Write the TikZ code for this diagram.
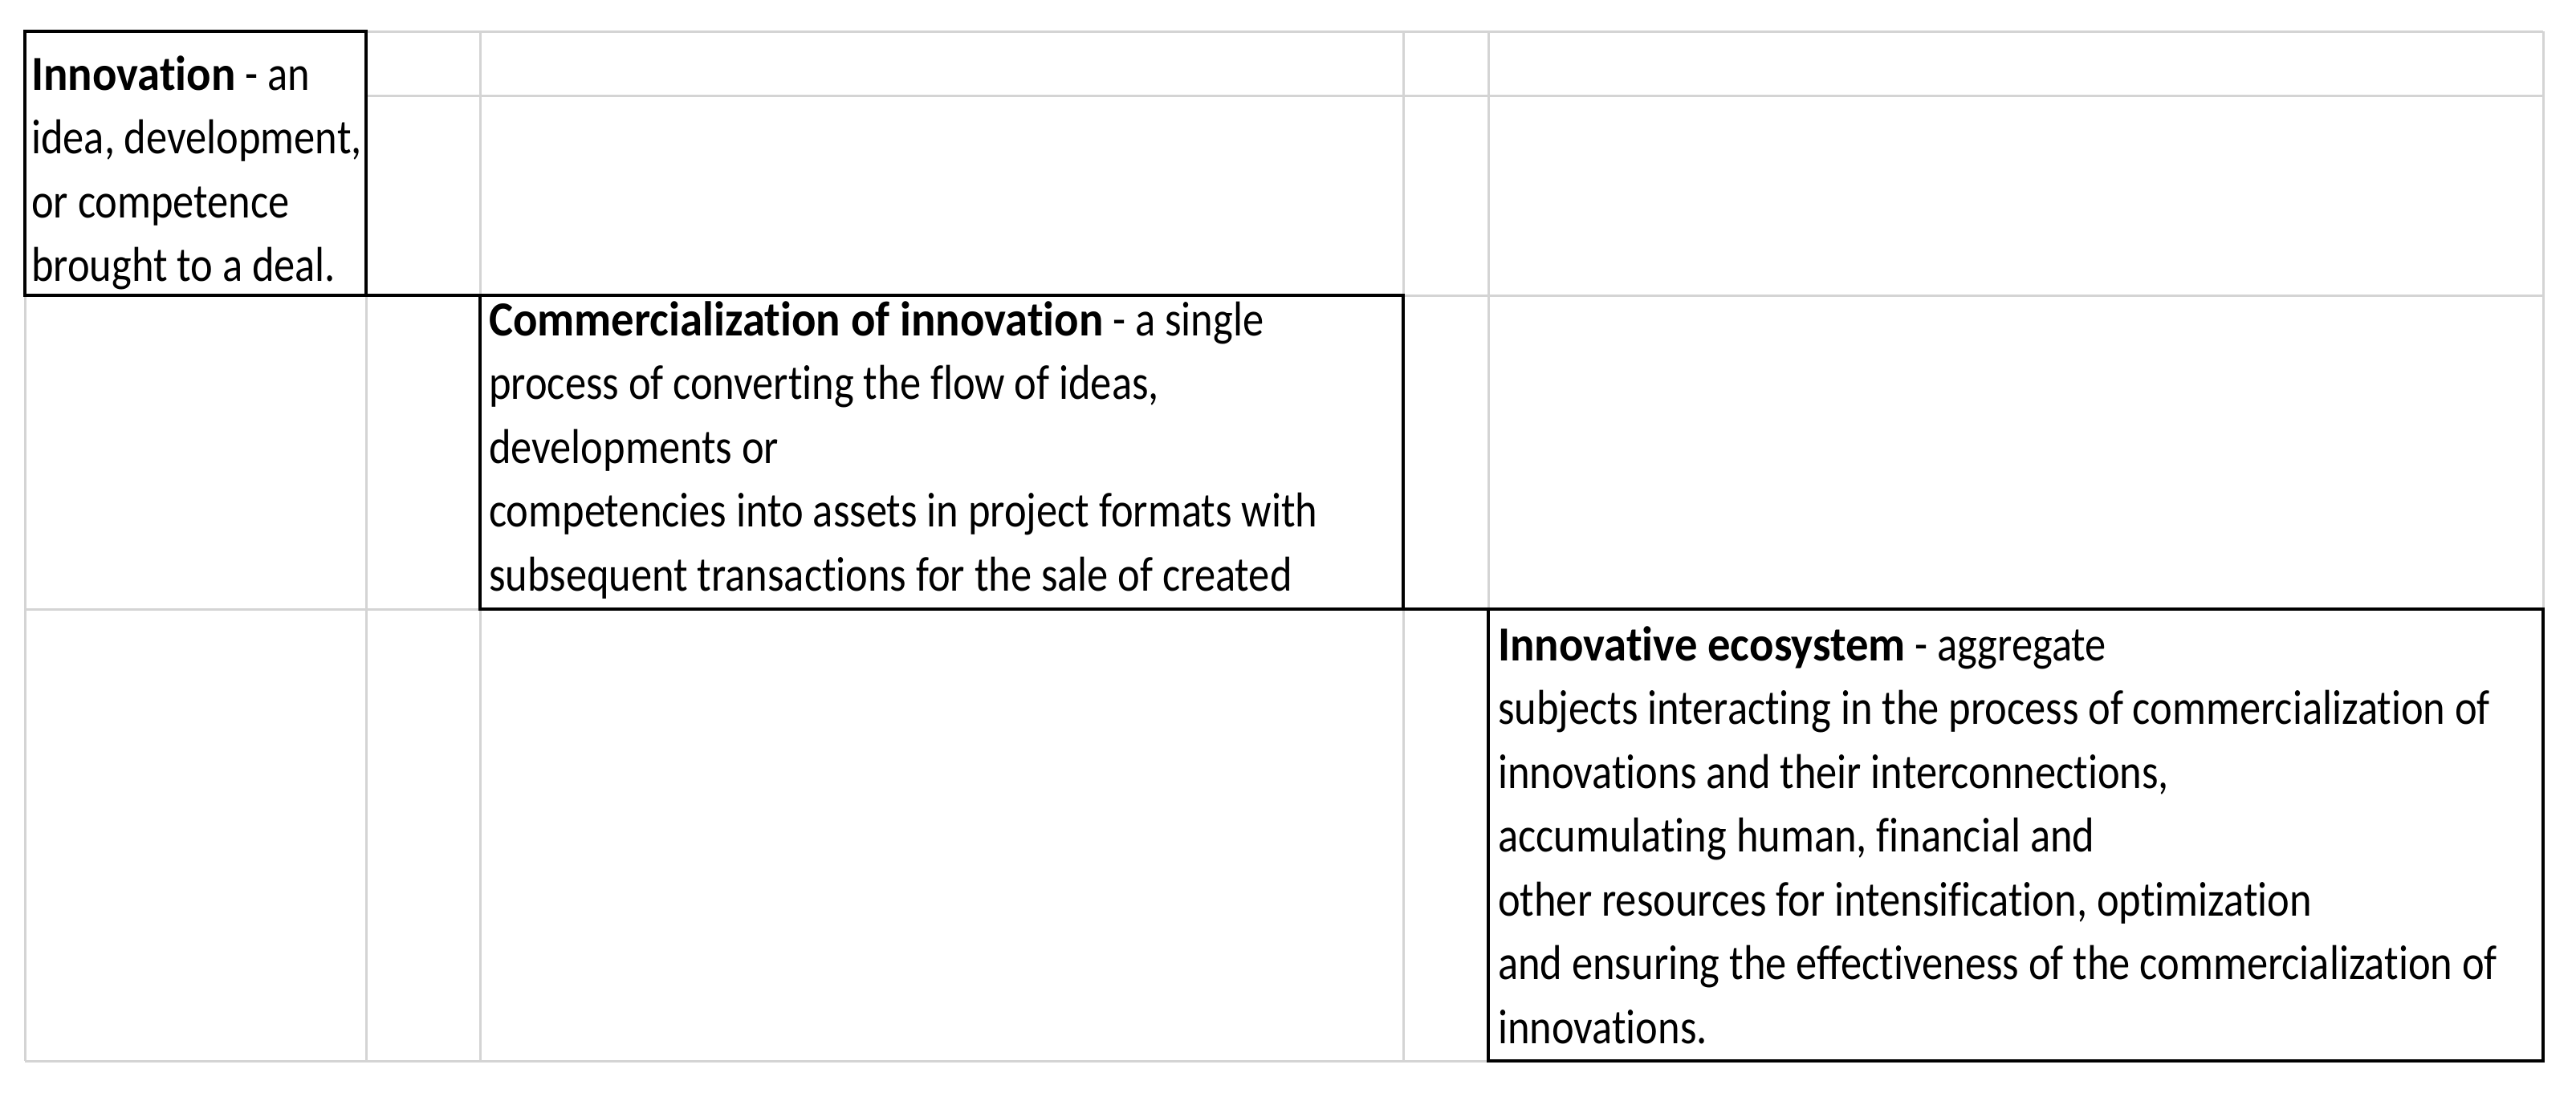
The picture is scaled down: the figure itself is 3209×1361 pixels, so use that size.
\documentclass[tikz,border=0pt]{standalone}
\usepackage{fontspec}
\setmainfont{Carlito}[FakeStretch=0.86, Ligatures={NoCommon}, BoldFeatures={FakeStretch=0.93}]
\definecolor{gridgray}{HTML}{D4D4D4}
\begin{document}
\begin{tikzpicture}[x=1pt,y=-1pt,
  gridline/.style={draw=gridgray, line width=3pt},
  boxstyle/.style={rectangle, draw=black, line width=3.5pt, fill=white, inner sep=0pt, outer sep=0pt, anchor=north west},
  conn/.style={draw=black, line width=3.5pt},
  txt/.style={anchor=north west, inner sep=0pt, align=left, font=\fontsize{61pt}{79.5pt}\selectfont}]
\useasboundingbox (0,0) rectangle (3209,1361);
\fill[white] (0,0) rectangle (3209,1361);
% spreadsheet grid
\foreach \yy in {39,119,368,759,1322} \draw[gridline] (31,\yy) -- (3168,\yy);
\foreach \xx in {31,456,598,1748,1854,3168} \draw[gridline] (\xx,39) -- (\xx,1322);
% boxes
\node[boxstyle, minimum width=425pt, minimum height=329pt] (b1) at (31,39) {};
\node[boxstyle, minimum width=1150pt, minimum height=391pt] (b2) at (598,368) {};
\node[boxstyle, minimum width=1314pt, minimum height=563pt] (b3) at (1854,759) {};
% connectors
\draw[conn] (b1.south east) -- (b2.north west);
\draw[conn] (b2.south east) -- (b3.north west);
% texts
\node[txt] (t1) at (39,56.35) {\strut\textbf{Innovation} - an\\idea, development,\\or competence\\brought to a deal.};
\node[txt] (t2) at (609,362.35) {\strut\textbf{Commercialization of innovation} - a single\\process of converting the flow of ideas,\\developments or\\competencies into assets in project formats with\\subsequent transactions for the sale of created};
\node[txt] (t3) at (1866,767.35) {\strut\textbf{Innovative ecosystem} - aggregate\\subjects interacting in the process of commercialization of\\innovations and their interconnections,\\accumulating human, financial and\\other resources for intensification, optimization\\and ensuring the effectiveness of the commercialization of\\innovations.};
\end{tikzpicture}
\end{document}
